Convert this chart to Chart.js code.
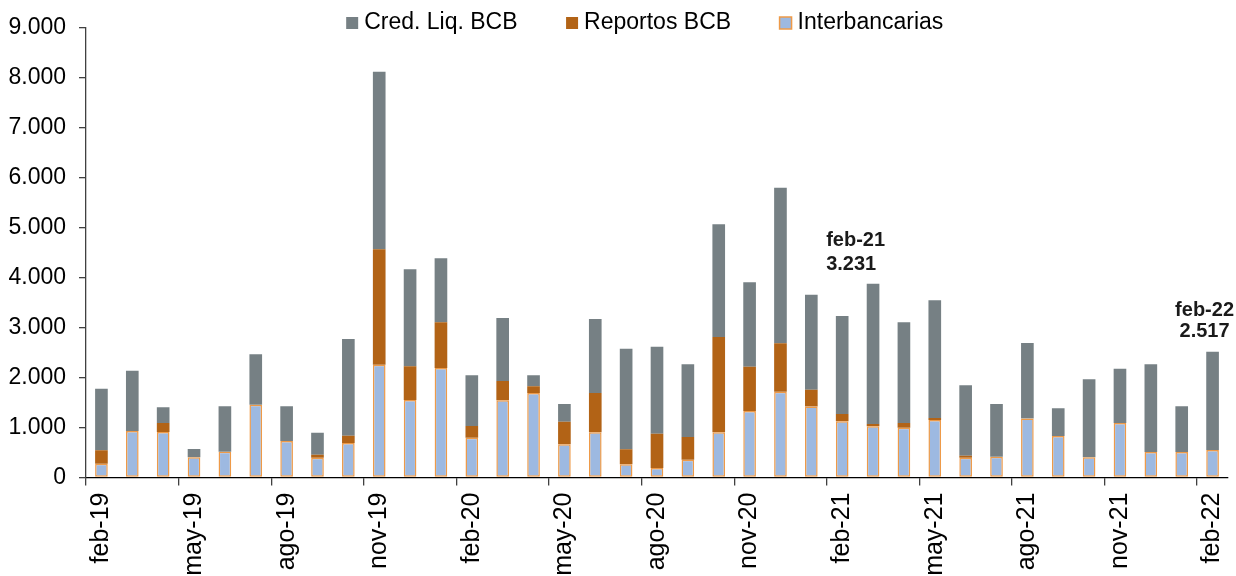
<!DOCTYPE html>
<html>
<head>
<meta charset="utf-8">
<script src="https://cdn.jsdelivr.net/npm/chart.js@4/dist/chart.umd.min.js"></script>
<style>
  html, body { margin: 0; padding: 0; background: #ffffff; }
  #wrap { width: 1236px; height: 576px; position: relative; }
</style>
</head>
<body>
<div id="wrap"><canvas id="c" width="1236" height="576"></canvas></div>
<script>
const months = ['feb-19','mar-19','abr-19','may-19','jun-19','jul-19','ago-19','sep-19','oct-19','nov-19','dic-19',
  'ene-20','feb-20','mar-20','abr-20','may-20','jun-20','jul-20','ago-20','sep-20','oct-20','nov-20','dic-20',
  'ene-21','feb-21','mar-21','abr-21','may-21','jun-21','jul-21','ago-21','sep-21','oct-21','nov-21','dic-21',
  'ene-22','feb-22'];

const interbancarias = [277, 930, 910, 403, 517, 1457, 730, 397, 690, 2257, 1550,
  2190, 797, 1543, 1690, 663, 903, 263, 190, 357, 903, 1330, 1717,
  1420, 1123, 1023, 997, 1150, 397, 417, 1180, 830, 403, 1090, 510,
  510, 550];

const reportosBCB = [266, 0, 180, 0, 0, 0, 0, 60, 147, 2306, 673,
  913, 233, 387, 133, 454, 787, 300, 687, 453, 1907, 887, 966,
  337, 147, 47, 93, 40, 40, 0, 0, 0, 0, 0, 0,
  0, 0];

const credLiqBCB = [1234, 1207, 313, 167, 906, 1006, 693, 440, 1933, 3554, 1940,
  1280, 1013, 1260, 220, 353, 1480, 2014, 1740, 1453, 2253, 1686, 3114,
  1900, 1961, 2807, 2013, 2353, 1406, 1053, 1510, 553, 1560, 1087, 1753,
  913, 1967];

const yTicks = [0, 1000, 2000, 3000, 4000, 5000, 6000, 7000, 8000, 9000];
const highlighted = ['feb-21', 'feb-22'];

const fmt = v => String(Math.round(v)).replace(/\B(?=(\d{3})+(?!\d))/g, '.');
const FONT = "'Liberation Sans', Arial, sans-serif";

const legendShift = {
  id: 'legendShift',
  beforeInit(chart) {
    const lg = chart.legend;
    const fit0 = lg.fit;
    lg.fit = function () {
      fit0.call(this);
      this.height = 27.5;
      this.bottom = this.top + this.height;
    };
    lg.draw = function () {
      if (!this.options.display) return;
      const ctx = this.ctx;
      ctx.save();
      ctx.translate(33.5, 23 - (this.top + this.options.labels.padding + 11.5));
      this._draw();
      ctx.restore();
    };
  }
};

const annot = {
  id: 'annot',
  afterDatasetsDraw(chart) {
    const ctx = chart.ctx;
    const xs = chart.scales.x, ys = chart.scales.y;
    ctx.save();
    ctx.fillStyle = '#1a1a1a';
    ctx.font = "bold 20px " + FONT;
    ctx.textBaseline = 'middle';
    highlighted.forEach((m, k) => {
      const i = months.indexOf(m);
      const total = interbancarias[i] + reportosBCB[i] + credLiqBCB[i];
      const x = xs.getPixelForValue(i);
      const y = ys.getPixelForValue(total);
      if (k === 0) {
        ctx.textAlign = 'left';
        ctx.fillText(m, x - 16, y - 75);
        ctx.fillText(fmt(total), x - 16, y - 51);
      } else {
        ctx.textAlign = 'center';
        ctx.fillText(m, x - 8, y - 41);
        ctx.fillText(fmt(total), x - 8, y - 20);
      }
    });
    ctx.restore();
  }
};

const axisColor = '#404040';

new Chart(document.getElementById('c'), {
  type: 'bar',
  data: {
    labels: months,
    datasets: [
      { label: 'Interbancarias', data: interbancarias, backgroundColor: '#9DB9E1',
        borderColor: '#EE9A48', borderWidth: 1.5, borderSkipped: false },
      { label: 'Reportos BCB', data: reportosBCB, backgroundColor: '#B26316', borderWidth: 0 },
      { label: 'Cred. Liq. BCB', data: credLiqBCB, backgroundColor: '#768084', borderWidth: 0 }
    ]
  },
  options: {
    responsive: false,
    animation: false,
    devicePixelRatio: 1,
    categoryPercentage: 1,
    barPercentage: 0.41,
    layout: { padding: { top: 0, right: 8, left: 0, bottom: 0 } },
    plugins: {
      legend: {
        position: 'top',
        reverse: true,
        labels: {
          usePointStyle: true,
          pointStyle: 'rect',
          boxWidth: 1,
          boxHeight: 12,
          padding: 54,
          color: '#000',
          font: { family: FONT, size: 23 }
        }
      },
      tooltip: { enabled: false }
    },
    scales: {
      x: {
        stacked: true,
        offset: true,
        afterFit(s) { s.height = 98.5; s.paddingLeft = 0; s.paddingRight = 0; },
        grid: {
          offset: true,
          drawOnChartArea: false,
          drawTicks: true,
          tickLength: 8,
          color: c => (c.index % 3 === 0 ? axisColor : 'rgba(0,0,0,0)'),
          lineWidth: 1.3
        },
        border: { display: true, color: '#000', width: 1.3 },
        ticks: {
          autoSkip: false,
          maxRotation: 90,
          minRotation: 90,
          padding: 7,
          color: '#000',
          font: { family: FONT, size: 25 },
          callback: (v, i) => (i % 3 === 0 ? months[i] : '')
        }
      },
      y: {
        stacked: true,
        min: yTicks[0],
        max: yTicks[yTicks.length - 1],
        afterFit(s) { s.width = 86; },
        afterBuildTicks(s) { s.ticks = yTicks.map(v => ({ value: v })); },
        grid: {
          drawOnChartArea: false,
          drawTicks: true,
          tickLength: 7,
          color: axisColor,
          lineWidth: 1.3
        },
        border: { display: true, color: axisColor, width: 1.3 },
        ticks: {
          padding: 13,
          color: '#000',
          font: { family: FONT, size: 23 },
          callback: v => fmt(v)
        }
      }
    }
  },
  plugins: [legendShift, annot]
});
</script>
</body>
</html>
